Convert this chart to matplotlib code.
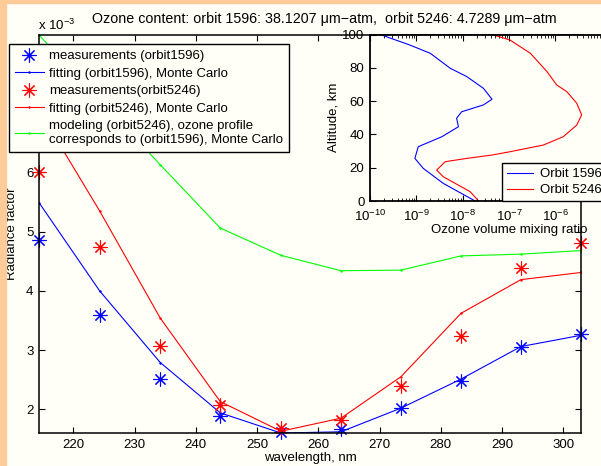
import matplotlib
matplotlib.use("Agg")
import matplotlib.pyplot as plt
import numpy as np

plt.rcParams['font.family'] = ['Liberation Sans', 'DejaVu Sans']
plt.rcParams['mathtext.fontset'] = 'custom'
plt.rcParams['mathtext.rm'] = 'Liberation Sans'
plt.rcParams['mathtext.it'] = 'Liberation Sans:italic'

BG = '#fffff8'
EDGE = '#ffcc99'

# radiance factor (x 1e-3) vs wavelength
wavelength = [214.4, 224.3, 234.2, 244.0, 253.9, 263.7, 273.5, 283.3, 293.1, 302.9]
meas_1596 = [4.86, 3.60, 2.52, 1.89, 1.62, 1.67, 2.03, 2.47, 3.06, 3.28]
fit_1596 = [5.49, 4.00, 2.79, 1.94, 1.60, 1.62, 2.02, 2.51, 3.06, 3.25]
meas_5246 = [6.00, 4.74, 3.07, 2.07, 1.68, 1.82, 2.40, 3.24, 4.39, 4.81]
fit_5246 = [7.05, 5.35, 3.54, 2.13, 1.63, 1.85, 2.55, 3.62, 4.19, 4.31]
model_5246 = [8.32, 7.22, 6.13, 5.06, 4.60, 4.34, 4.35, 4.59, 4.62, 4.68]

# ozone profiles for the inset
alt_1596 = [0, 10.6, 19.6, 25.6, 32.6, 38.6, 44.6, 49.7, 53.6, 57.7, 61.1, 67.7, 74.7, 79.7, 88.7, 93.7, 100]
vmr_1596 = [1.86e-8, 3.8e-9, 1.41e-9, 9.3e-10, 1.1e-9, 3.55e-9, 8.1e-9, 7.4e-9, 9.5e-9, 2.8e-8,
            4.3e-8, 2.8e-8, 1.23e-8, 5.4e-9, 2.0e-9, 7.2e-10, 1.66e-10]
alt_5246 = [0, 5.6, 14.6, 18.6, 23.6, 25.6, 27.6, 29.6, 33.6, 38.6, 45.6, 51.7, 58.7, 65.6, 69.7,
            77.7, 88.7, 96.7, 100]
vmr_5246 = [2.2e-8, 1.45e-8, 3.8e-9, 2.75e-9, 4.2e-9, 1.23e-8, 4.3e-8, 1.05e-7, 5.5e-7, 1.48e-6,
            2.9e-6, 3.7e-6, 2.9e-6, 1.78e-6, 1.07e-6, 6.6e-7, 2.9e-7, 1.05e-7, 4.3e-8]

W, H = 601, 466
fig = plt.figure(figsize=(W / 100, H / 100), dpi=100, facecolor=BG)

# orange border strips (left and top)
fig.patches.append(plt.Rectangle((0, 0), 6 / W, 1, transform=fig.transFigure, color=EDGE, zorder=0))
fig.patches.append(plt.Rectangle((0, 1 - 3 / H), 1, 3 / H, transform=fig.transFigure, color=EDGE, zorder=0))

ax = fig.add_axes([39 / W, 33 / H, 542 / W, 398 / H], facecolor=BG)
star = (8, 2, 0)
ax.plot(wavelength, meas_1596, linestyle='none', marker=star, markersize=10, mew=0.8,
        color='#0000ff', clip_on=False, label='measurements (orbit1596)')
ax.plot(wavelength, fit_1596, color='#0000ff', lw=0.8, marker='.', markersize=1.5,
        label='fitting (orbit1596), Monte Carlo')
ax.plot(wavelength, meas_5246, linestyle='none', marker=star, markersize=10, mew=0.8,
        color='#ff0000', clip_on=False, label='measurements(orbit5246)')
ax.plot(wavelength, fit_5246, color='#ff0000', lw=0.8, marker='.', markersize=1.5,
        label='fitting (orbit5246), Monte Carlo')
ax.plot(wavelength, model_5246, color='#00ff00', lw=0.8, marker='.', markersize=1.5,
        label='modeling (orbit5246), ozone profile\ncorresponds to (orbit1596), Monte Carlo')

ax.set_xlim(min(wavelength), max(wavelength))
ax.set_ylim(min(fit_1596), max(model_5246))
ax.set_xticks(np.arange(220, 301, 10))
ax.set_yticks([2, 3, 4, 5, 6, 7, 8])
ax.tick_params(direction='in', top=True, right=True, length=4, width=0.8, labelsize=9.5, pad=4)
for s in ax.spines.values():
    s.set_linewidth(1.1)
ax.set_xlabel('wavelength, nm', fontsize=9.5, labelpad=1)
ax.set_ylabel('Radiance factor', fontsize=9.5, labelpad=6)

fig.text(38 / W, 1 - 30 / H, r'x 10$^{-3}$', fontsize=9.5, va='baseline')
fig.text(324 / W, 1 - 23 / H,
         'Ozone content: orbit 1596: 38.1207 \u03bcm\u2212atm,  orbit 5246: 4.7289 \u03bcm\u2212atm',
         fontsize=10.3, ha='center', va='baseline')

leg = ax.legend(loc='upper left', bbox_to_anchor=(9 / W, 1 - 44 / H), bbox_transform=fig.transFigure,
                borderaxespad=0, fontsize=9.5, fancybox=False, framealpha=1, facecolor=BG,
                edgecolor='black', handlelength=2.2, handletextpad=0.4, labelspacing=0.4,
                borderpad=0.45)
leg.get_frame().set_linewidth(1.0)
leg.set_zorder(10)

# inset with ozone profiles
ins = fig.add_axes([370 / W, (H - 201) / H, 278 / W, 166.5 / H], facecolor=BG)
ins.set_zorder(5)
ins.plot(vmr_1596, alt_1596, color='#0000ff', lw=0.8, label='Orbit 1596')
ins.plot(vmr_5246, alt_5246, color='#ff0000', lw=0.8, label='Orbit 5246')
ins.set_xscale('log')
ins.set_xlim(1e-10, 1e-4)
ins.set_ylim(0, 100)
ins.set_yticks([0, 20, 40, 60, 80, 100])
ins.set_xticks([1e-10, 1e-9, 1e-8, 1e-7, 1e-6])
ins.tick_params(which='both', direction='in', top=True, right=True, labelsize=9.5)
ins.tick_params(axis='x', pad=5.5)
ins.tick_params(axis='y', pad=4)
ins.tick_params(which='major', length=4, width=0.8)
ins.tick_params(which='minor', length=2, width=0.6)
for s in ins.spines.values():
    s.set_linewidth(1.3)
ins.set_xlabel('Ozone volume mixing ratio', fontsize=9.5, labelpad=0)
ins.set_ylabel('Altitude, km', fontsize=9.5, labelpad=2)
ileg = ins.legend(loc='lower left', bbox_to_anchor=(502 / W, (H - 201) / H), bbox_transform=fig.transFigure,
                  borderaxespad=0, fontsize=9.5, fancybox=False, framealpha=1, facecolor=BG,
                  edgecolor='black', handlelength=2.0, handletextpad=0.5, labelspacing=0.3,
                  borderpad=0.35)
ileg.get_frame().set_linewidth(1.0)

fig.savefig('out.png', dpi=100, facecolor=BG)
